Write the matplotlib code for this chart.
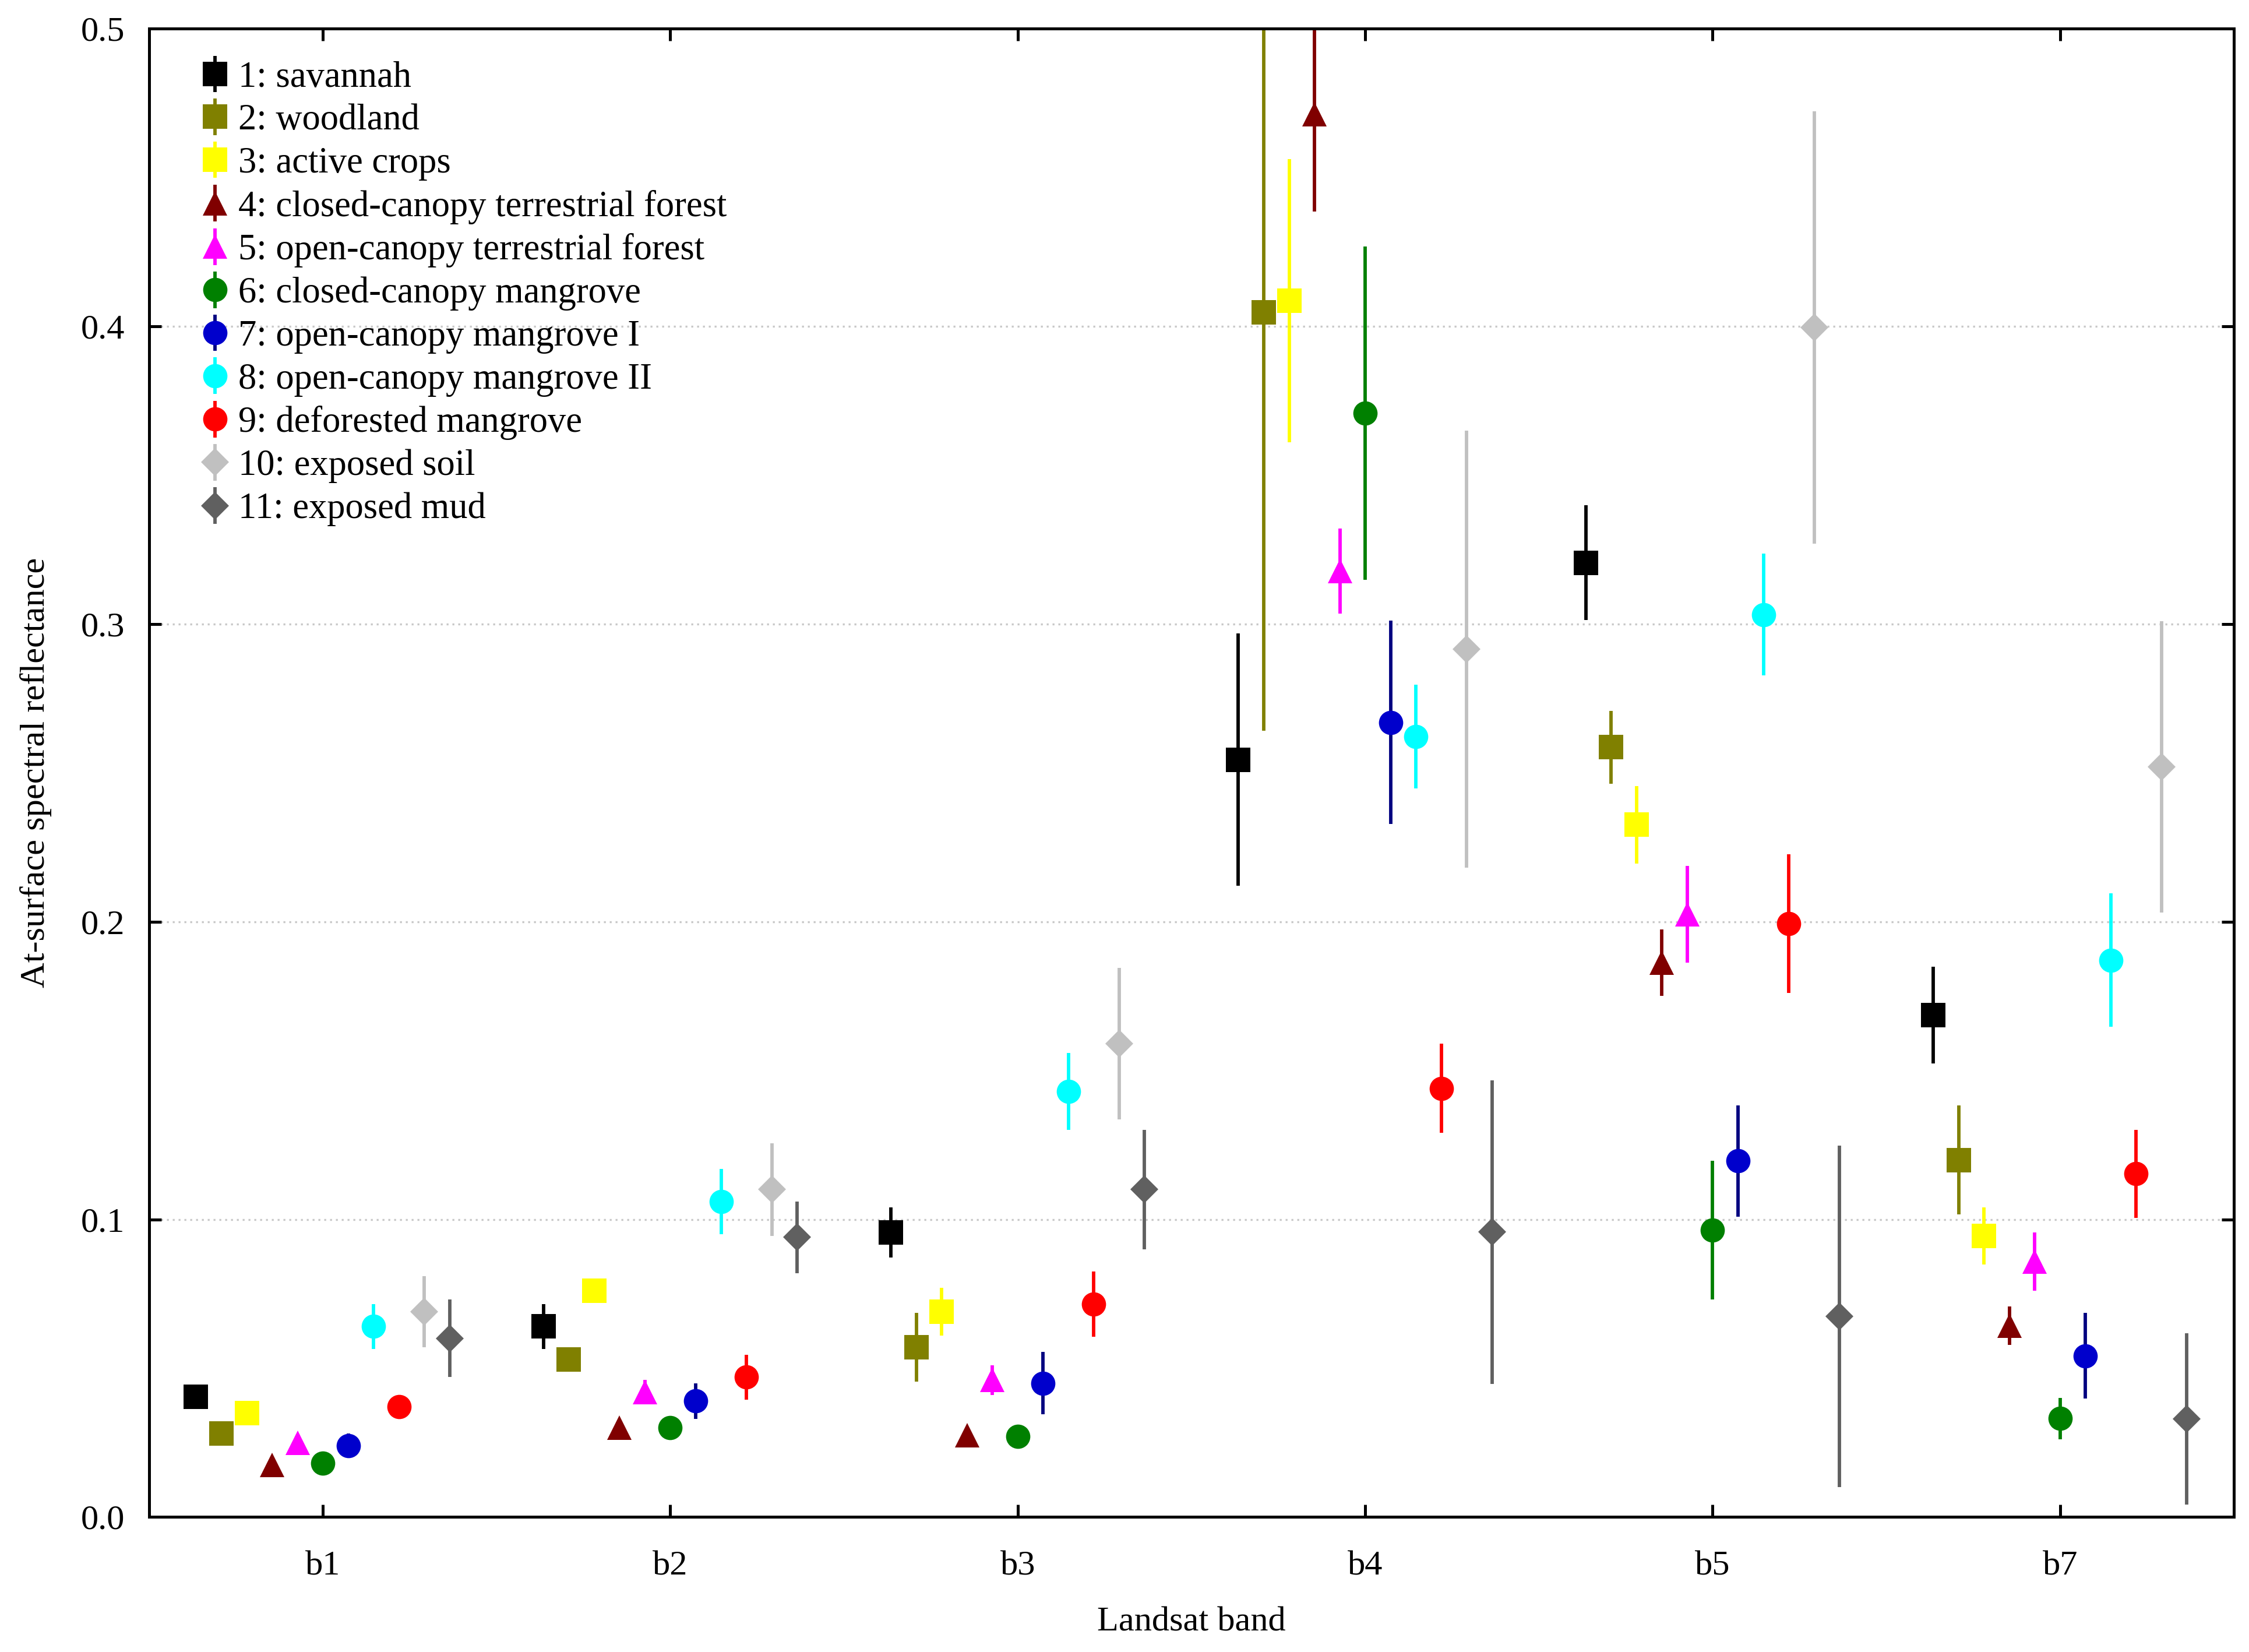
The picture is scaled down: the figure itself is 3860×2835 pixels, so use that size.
import matplotlib
matplotlib.use("Agg")
import matplotlib.pyplot as plt
import numpy as np

bands = ["b1", "b2", "b3", "b4", "b5", "b7"]
classes = ["1: savannah", "2: woodland", "3: active crops",
           "4: closed-canopy terrestrial forest", "5: open-canopy terrestrial forest",
           "6: closed-canopy mangrove", "7: open-canopy mangrove I",
           "8: open-canopy mangrove II", "9: deforested mangrove",
           "10: exposed soil", "11: exposed mud"]

savannah      = [0.0405, 0.064, 0.0956, 0.2544, 0.3206, 0.1686]
savannah_err  = [0.002, 0.0075, 0.0085, 0.0424, 0.0193, 0.0162]
woodland      = [0.028, 0.053, 0.057, 0.4048, 0.2586, 0.1199]
woodland_err  = [0.001, 0.004, 0.0115, 0.1406, 0.0122, 0.0183]
crops         = [0.035, 0.076, 0.069, 0.4086, 0.2326, 0.0944]
crops_err     = [0.003, 0.004, 0.008, 0.0476, 0.013, 0.0096]
cc_forest     = [0.0174, 0.030, 0.0275, 0.4712, 0.1863, 0.0643]
cc_forest_err = [0.001, 0.002, 0.002, 0.0326, 0.0112, 0.0065]
oc_forest     = [0.025, 0.042, 0.046, 0.3178, 0.2025, 0.0859]
oc_forest_err = [0.002, 0.004, 0.005, 0.0142, 0.0163, 0.0098]
cc_mangrove     = [0.018, 0.030, 0.027, 0.3708, 0.0963, 0.0331]
cc_mangrove_err = [0.002, 0.004, 0.004, 0.056, 0.0233, 0.007]
oc_mangrove1     = [0.024, 0.039, 0.045, 0.267, 0.1196, 0.0542]
oc_mangrove1_err = [0.004, 0.006, 0.0105, 0.0342, 0.0187, 0.0143]
oc_mangrove2     = [0.064, 0.106, 0.143, 0.2622, 0.3032, 0.1871]
oc_mangrove2_err = [0.0075, 0.011, 0.013, 0.0175, 0.0205, 0.0224]
deforested     = [0.037, 0.047, 0.0715, 0.144, 0.1993, 0.1153]
deforested_err = [0.002, 0.0075, 0.011, 0.015, 0.0233, 0.0147]
soil     = [0.069, 0.110, 0.159, 0.2916, 0.3996, 0.252]
soil_err = [0.012, 0.0155, 0.0255, 0.0734, 0.0726, 0.049]
mud      = [0.060, 0.094, 0.110, 0.0958, 0.0674, 0.0329]
mud_err  = [0.013, 0.012, 0.020, 0.051, 0.0573, 0.0288]

means = [savannah, woodland, crops, cc_forest, oc_forest, cc_mangrove,
         oc_mangrove1, oc_mangrove2, deforested, soil, mud]
errs = [savannah_err, woodland_err, crops_err, cc_forest_err, oc_forest_err,
        cc_mangrove_err, oc_mangrove1_err, oc_mangrove2_err, deforested_err,
        soil_err, mud_err]

colors = ["#000000", "#808000", "#FFFF00", "#800000", "#FF00FF", "#008000",
          "#0000CC", "#00FFFF", "#FF0000", "#C0C0C0", "#606060"]
ecolors = ["#000000", "#808000", "#FFFF00", "#800000", "#FF00FF", "#008000",
           "#000080", "#00FFFF", "#FF0000", "#C0C0C0", "#606060"]
markers = ["s", "s", "s", "^", "^", "o", "o", "o", "o", "D", "D"]
msizes = [10, 10, 10, 10, 10, 10, 10, 10, 10, 8, 8]

plt.rcParams["font.family"] = ["Liberation Serif", "DejaVu Serif"]

fig = plt.figure(figsize=(3861 / 300, 2835 / 300), dpi=300)
ax = fig.add_axes([0.0663, 0.0817, 0.9267, 0.9009])

x = np.arange(1, len(bands) + 1)
step = 0.073
for i in range(len(classes)):
    off = (i - 5) * step
    ax.errorbar(x + off, means[i], yerr=errs[i], fmt=markers[i], color=colors[i],
                ecolor=ecolors[i], markersize=msizes[i], markeredgewidth=0,
                elinewidth=1.4, capsize=2.0, capthick=1.1, label=classes[i])

ax.set_xlim(0.5, 6.5)
ax.set_ylim(0.0, 0.5)
ax.set_xticks(x)
ax.set_xticklabels(bands)
ax.set_yticks(np.arange(0, 0.51, 0.1))
ax.yaxis.set_major_formatter(matplotlib.ticker.FormatStrFormatter("%.1f"))
ax.tick_params(direction="in", top=True, right=True, labelsize=14.5, length=5,
               width=1.2, pad=14)
ax.tick_params(axis="y", pad=10)
ax.grid(axis="y", linestyle=(0, (1, 2)), color="#c8c8c8", linewidth=0.8)
ax.set_axisbelow(True)
for s in ax.spines.values():
    s.set_linewidth(1.2)

ax.set_xlabel("Landsat band", fontsize=14.5, labelpad=10)
ax.set_ylabel("At-surface spectral reflectance", fontsize=14.5, labelpad=12)

leg = ax.legend(loc="upper left", bbox_to_anchor=(0.014, 0.993), frameon=False,
                fontsize=15, handlelength=0.8, handletextpad=0.25,
                labelspacing=0.25, borderaxespad=0.2)

fig.savefig("out.png", dpi=300)
